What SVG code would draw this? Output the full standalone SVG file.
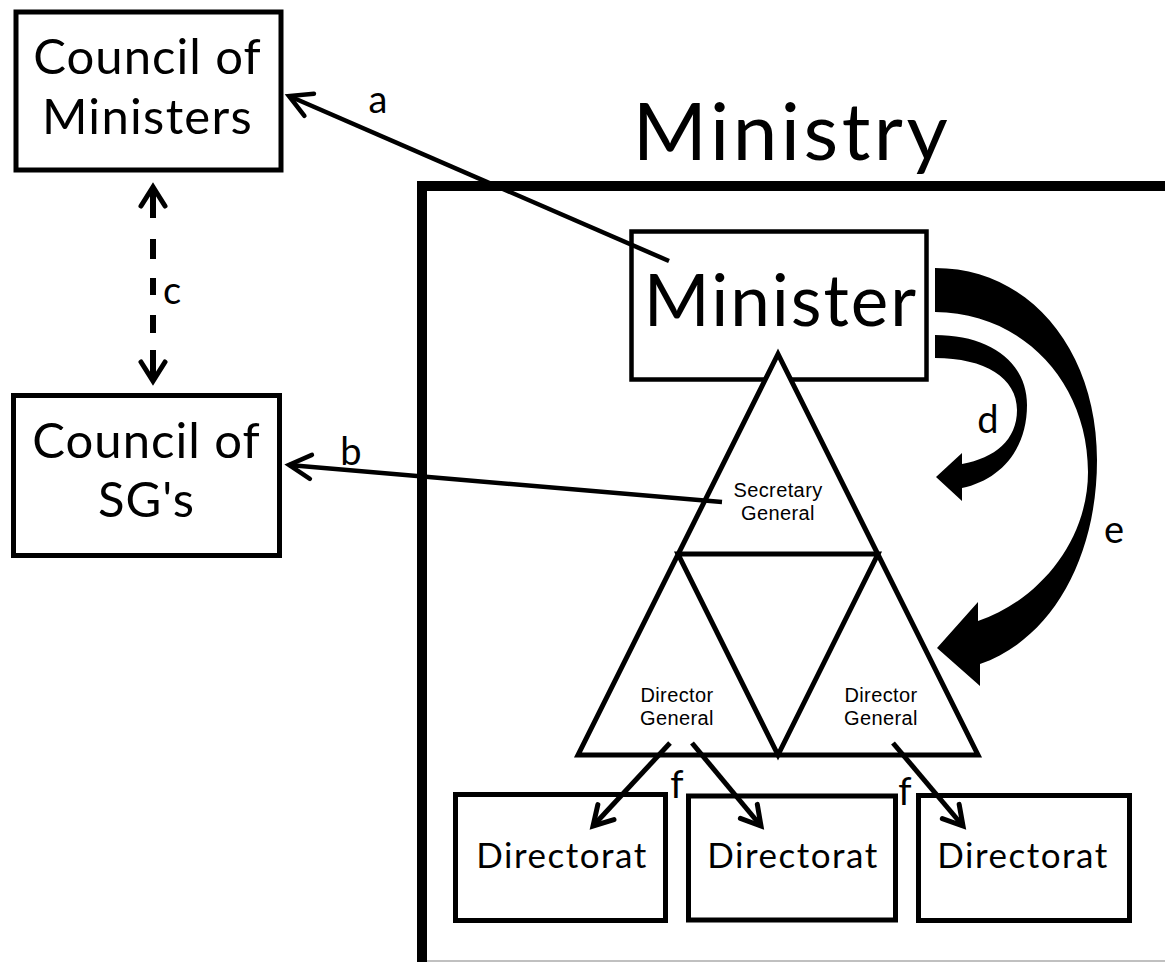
<svg xmlns="http://www.w3.org/2000/svg" width="1165" height="962" viewBox="0 0 1165 962">
<style>
  .box { fill: #fff; stroke: #000; }
  .t { font-family: Lato, "Open Sans", "Liberation Sans", sans-serif; fill: #000; text-anchor: middle; }
  .s { font-family: "Liberation Sans", Arial, sans-serif; fill: #000; text-anchor: middle; font-size: 20px; letter-spacing: 0.4px; }
  .lbl { font-family: Lato, "Open Sans", "Liberation Sans", sans-serif; fill: #000; text-anchor: middle; font-size: 38px; }
  .conn { fill: none; stroke: #000; }
</style>
<defs>
  <marker id="mA" markerUnits="userSpaceOnUse" viewBox="-40 -30 50 60" refX="0" refY="0" markerWidth="50" markerHeight="60" orient="auto-start-reverse" overflow="visible">
    <path d="M -22 -12 L 0 0 L -22 12" fill="none" stroke="#000" stroke-width="4.5" stroke-linecap="round"/>
  </marker>
  <marker id="mC" markerUnits="userSpaceOnUse" viewBox="-40 -30 50 60" refX="0" refY="0" markerWidth="50" markerHeight="60" orient="auto-start-reverse" overflow="visible">
    <path d="M -19 -12 L 0 0 L -19 12" fill="none" stroke="#000" stroke-width="5" stroke-linecap="round"/>
  </marker>
  <marker id="mF" markerUnits="userSpaceOnUse" viewBox="-40 -30 50 60" refX="0" refY="0" markerWidth="50" markerHeight="60" orient="auto" overflow="visible">
    <path d="M -19 -11 L 0 0 L -19 11" fill="none" stroke="#000" stroke-width="5" stroke-linecap="round"/>
  </marker>
</defs>
<rect width="1165" height="962" fill="#fff"/>

<g id="ministry">
  <rect x="422" y="186" width="900" height="900" fill="none" stroke="#000" stroke-width="10"/>
  <text class="t" x="792" y="160" font-size="80" letter-spacing="3.5">Ministry</text>
</g>

<g id="council-ministers">
  <rect class="box" x="16" y="12" width="265" height="158" stroke-width="5"/>
  <text class="t" x="147.5" y="74" font-size="49" letter-spacing="1">Council of</text>
  <text class="t" x="147.5" y="134" font-size="49" letter-spacing="1.3">Ministers</text>
</g>

<g id="council-sgs">
  <rect class="box" x="13.5" y="395.5" width="266" height="160" stroke-width="5"/>
  <text class="t" x="146.5" y="458" font-size="49" letter-spacing="1">Council of</text>
  <text class="t" x="146.5" y="517" font-size="49" letter-spacing="1">SG's</text>
</g>

<g id="minister">
  <rect class="box" x="631.5" y="231.5" width="295" height="148" stroke-width="4.5"/>
  <text class="t" x="781" y="326" font-size="71" letter-spacing="2">Minister</text>
</g>

<g id="pyramid">
  <polygon points="778,354 578,755 978,755" fill="#fff" stroke="#000" stroke-width="5" stroke-linejoin="miter"/>
  <polygon points="678,554 878,554 778,755" fill="none" stroke="#000" stroke-width="5" stroke-linejoin="miter"/>
</g>
<g id="secretary-general">
  <text class="s" x="778" y="497">Secretary</text>
  <text class="s" x="778" y="520">General</text>
</g>
<g id="director-general-1">
  <text class="s" x="677" y="702">Director</text>
  <text class="s" x="677" y="725">General</text>
</g>
<g id="director-general-2">
  <text class="s" x="881" y="702">Director</text>
  <text class="s" x="881" y="725">General</text>
</g>

<g id="directorat-1">
  <rect class="box" x="455.5" y="794.5" width="210" height="126" stroke-width="5"/>
  <text class="t" x="562" y="868" font-size="35" letter-spacing="1.5">Directorat</text>
</g>
<g id="directorat-2">
  <rect class="box" x="688.5" y="796" width="207" height="124" stroke-width="5"/>
  <text class="t" x="793" y="868" font-size="35" letter-spacing="1.5">Directorat</text>
</g>
<g id="directorat-3">
  <rect class="box" x="918.5" y="795.5" width="211" height="125" stroke-width="5"/>
  <text class="t" x="1023" y="868" font-size="35" letter-spacing="1.5">Directorat</text>
</g>

<g id="connectors">
  <line class="conn" x1="669" y1="261" x2="289" y2="96" stroke-width="4.5" marker-end="url(#mA)"/>
  <line class="conn" x1="722" y1="502" x2="289" y2="465" stroke-width="4.5" marker-end="url(#mA)"/>
  <line class="conn" x1="153" y1="187" x2="153" y2="381" stroke-width="6" stroke-dasharray="31 21 20 19 17 20 18 17 31" marker-start="url(#mC)" marker-end="url(#mC)"/>
  <path d="M 935 268 C 1030 268 1097 350 1097 460 C 1097 560 1050 640 980 664 L 980 686 L 937 648 L 978 602 L 978 621 C 1040 600 1088 540 1088 472 C 1088 380 1020 312 935 312 Z" fill="#000"/>
  <path d="M 935 335 C 990 335 1027 362 1027 405 C 1027 450 1000 480 962 488 L 962 501 L 936 477 L 962 453 L 962 464 C 995 458 1017 440 1017 410 C 1017 378 985 358 935 358 Z" fill="#000"/>
  <line class="conn" x1="670" y1="743" x2="593" y2="826" stroke-width="5" marker-end="url(#mF)"/>
  <line class="conn" x1="692" y1="743" x2="761" y2="826" stroke-width="5" marker-end="url(#mF)"/>
  <line class="conn" x1="893" y1="743" x2="963" y2="826" stroke-width="5" marker-end="url(#mF)"/>
  <text class="lbl" x="378" y="113">a</text>
  <text class="lbl" x="351" y="465">b</text>
  <text class="lbl" x="172" y="304">c</text>
  <text class="lbl" x="988" y="433">d</text>
  <text class="lbl" x="1114" y="543">e</text>
  <text class="lbl" x="677" y="798">f</text>
  <text class="lbl" x="905" y="805">f</text>
</g>
<line x1="427" y1="961" x2="1165" y2="961" stroke="#c0c0c0" stroke-width="2"/>
</svg>
